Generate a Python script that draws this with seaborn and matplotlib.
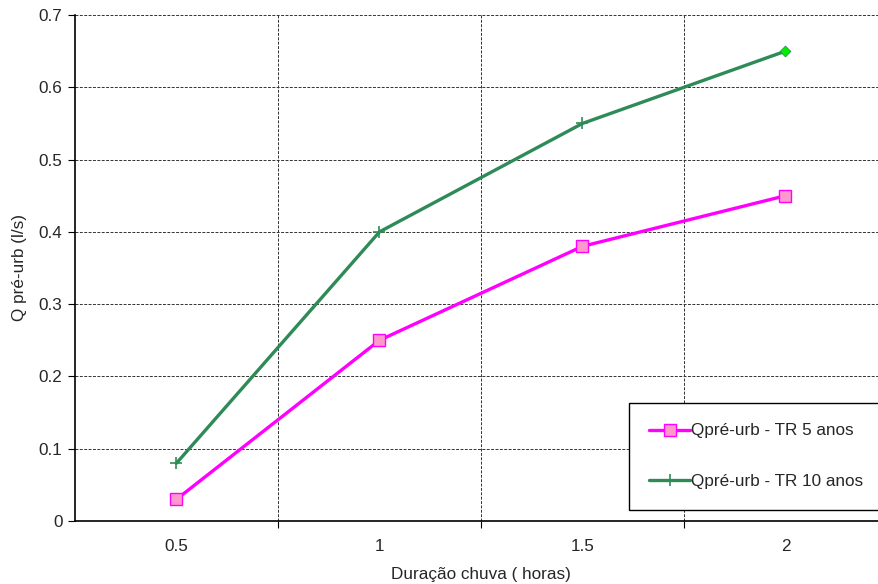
import matplotlib
matplotlib.use("Agg")
import matplotlib.pyplot as plt
from matplotlib.ticker import FixedLocator
import seaborn as sns
import pandas as pd

# Rain duration categories (hours) and pre-urbanisation peak flow (l/s)
duracao = ["0.5", "1", "1.5", "2"]
q_tr5 = [0.03, 0.25, 0.38, 0.45]
q_tr10 = [0.08, 0.40, 0.55, 0.65]
serie_tr5 = "Qpré-urb - TR 5 anos"
serie_tr10 = "Qpré-urb - TR 10 anos"
y_ticks = [0, 0.1, 0.2, 0.3, 0.4, 0.5, 0.6, 0.7]
y_labels = ["0", "0.1", "0.2", "0.3", "0.4", "0.5", "0.6", "0.7"]

sns.set_theme(style="white")
plt.rcParams["font.family"] = ["Liberation Sans", "DejaVu Sans"]
FS = 12.3

fig = plt.figure(figsize=(8.79, 5.84), dpi=100)
ax = fig.add_axes([0.0853, 0.1079, 0.9238, 0.8664])

df5 = pd.DataFrame({"dur": duracao, "q": q_tr5})
df10 = pd.DataFrame({"dur": duracao, "q": q_tr10})

sns.lineplot(data=df5, x="dur", y="q", ax=ax, color="#FF00FF", linewidth=2.4,
             marker="s", markersize=8, markerfacecolor="#FF99CC",
             markeredgecolor="#FF00FF", markeredgewidth=1.0,
             label=serie_tr5, zorder=3)
sns.lineplot(data=df10, x="dur", y="q", ax=ax, color="#2E8B57", linewidth=2.4,
             marker="+", markersize=9, markeredgewidth=1.2,
             markeredgecolor="#2E8B57", markevery=list(range(len(duracao) - 1)),
             label=serie_tr10, zorder=3)
# highlighted final point of the 10-year series
sns.scatterplot(data=df10.iloc[[-1]], x="dur", y="q", ax=ax, marker="D", s=30,
                color="#00EE00", edgecolor="#2E8B57", linewidth=0.6,
                zorder=4, legend=False)

ax.set_xlim(-0.5, len(duracao) - 0.5)
ax.set_ylim(0, 0.7)
ax.set_yticks(y_ticks)
ax.set_yticklabels(y_labels)
ax.xaxis.set_minor_locator(FixedLocator([i + 0.5 for i in range(len(duracao) - 1)]))

grid_kw = dict(color="#333333", linestyle=(0, (3, 1.5)), linewidth=0.7)
ax.grid(True, axis="y", which="major", **grid_kw)
ax.grid(True, axis="x", which="minor", **grid_kw)
ax.grid(False, axis="x", which="major")

ax.tick_params(axis="y", which="major", direction="out", length=5, width=0.8,
               color="black", labelsize=FS, pad=4, left=True)
ax.tick_params(axis="x", which="major", length=0, labelsize=FS, pad=13)
ax.tick_params(axis="x", which="minor", direction="out", length=5, width=0.8,
               color="black", bottom=True)

for side in ["top", "right"]:
    ax.spines[side].set_visible(False)
for side in ["left", "bottom"]:
    ax.spines[side].set_color("black")
    ax.spines[side].set_linewidth(1.2)

ax.set_xlabel("Duração chuva ( horas)", fontsize=FS, labelpad=9)
ax.set_ylabel("Q pré-urb (l/s)", fontsize=FS, labelpad=8)

leg = ax.legend(loc="lower left", bbox_to_anchor=(0.682, 0.022, 0.34, 0.213),
                mode="expand", fontsize=FS, frameon=True, fancybox=False,
                edgecolor="black", framealpha=1, handlelength=2.4,
                handletextpad=0.05, labelspacing=2.1, borderpad=1.2,
                borderaxespad=0)
leg.get_frame().set_linewidth(1.0)
# legend lines carry a single marker at their midpoint
for handle in leg.legend_handles:
    handle.set_markevery([1])

fig.savefig("out.png", dpi=100)
